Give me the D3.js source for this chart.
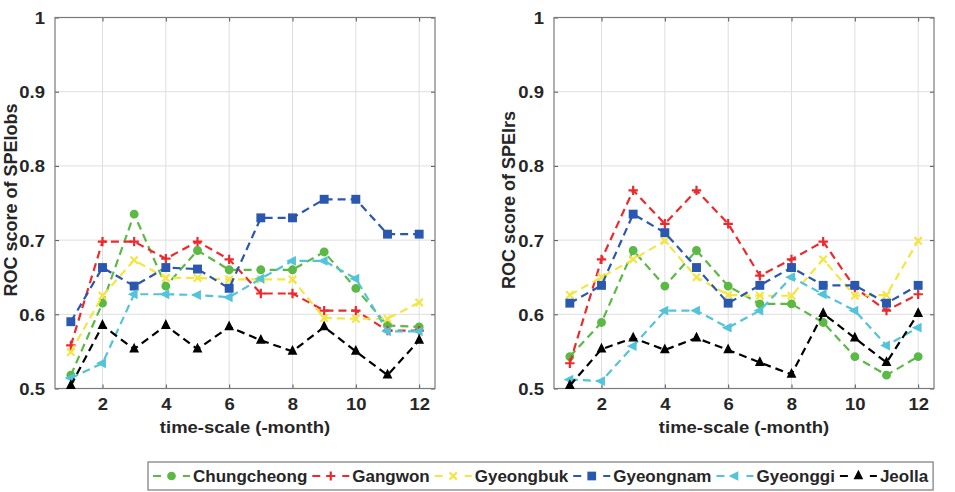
<!DOCTYPE html>
<html><head><meta charset="utf-8">
<script src="https://cdn.jsdelivr.net/npm/d3@7"></script>
<style>
body{margin:0;background:#fff;}
text{font-family:"Liberation Sans",Arial,Helvetica,sans-serif;font-weight:bold;fill:#262626;}
</style></head>
<body><svg id="c" width="955" height="492"></svg>
<script>
const months = [1,2,3,4,5,6,7,8,9,10,11,12];
const regions = ["Chungcheong","Gangwon","Gyeongbuk","Gyeongnam","Gyeonggi","Jeolla"];
const colors = ["#5cb946","#ec2a2e","#f4e642","#2a57b0","#52c4d9","#000000"];
const markers = ["circle","plus","cross","square","triLeft","triUp"];
const yTicks = [0.5,0.6,0.7,0.8,0.9,1];
const xTicks = [2,4,6,8,10,12];

// Left panel: ROC score of SPEIobs
const obsChungcheong = [0.518,0.615,0.735,0.638,0.686,0.660,0.660,0.660,0.684,0.635,0.585,0.583];
const obsGangwon     = [0.558,0.698,0.698,0.675,0.698,0.674,0.628,0.628,0.605,0.605,0.578,0.578];
const obsGyeongbuk   = [0.549,0.625,0.673,0.649,0.649,0.647,0.647,0.647,0.595,0.594,0.594,0.616];
const obsGyeongnam   = [0.590,0.663,0.638,0.663,0.661,0.635,0.730,0.730,0.755,0.755,0.708,0.708];
const obsGyeonggi    = [0.514,0.534,0.627,0.627,0.626,0.623,0.648,0.672,0.672,0.648,0.577,0.577];
const obsJeolla      = [0.504,0.585,0.553,0.585,0.553,0.583,0.565,0.550,0.583,0.550,0.518,0.565];

// Right panel: ROC score of SPEIrs
const rsChungcheong = [0.543,0.589,0.686,0.638,0.686,0.638,0.614,0.614,0.589,0.543,0.518,0.543];
const rsGangwon     = [0.534,0.674,0.767,0.722,0.767,0.722,0.652,0.674,0.698,0.636,0.605,0.627];
const rsGyeongbuk   = [0.626,0.650,0.674,0.699,0.650,0.626,0.625,0.625,0.674,0.625,0.626,0.699];
const rsGyeongnam   = [0.615,0.639,0.735,0.710,0.663,0.615,0.639,0.663,0.639,0.639,0.615,0.639];
const rsGyeonggi    = [0.512,0.510,0.557,0.605,0.605,0.582,0.605,0.650,0.627,0.605,0.558,0.582];
const rsJeolla      = [0.504,0.553,0.568,0.552,0.568,0.552,0.535,0.519,0.601,0.568,0.535,0.601];

const panels = [
  {left:55, label:"ROC score of SPEIobs", labelX:17,
   series:[obsChungcheong,obsGangwon,obsGyeongbuk,obsGyeongnam,obsGyeonggi,obsJeolla]},
  {left:554, label:"ROC score of SPEIrs", labelX:515,
   series:[rsChungcheong,rsGangwon,rsGyeongbuk,rsGyeongnam,rsGyeonggi,rsJeolla]}
];

const svg = d3.select("#c");
const W = 380, yTop = 17.5, yBot = 388.5;
const y = d3.scaleLinear().domain([0.5,1]).range([yBot, yTop]);
const SX = 1.12;

function marker(g, type, color, cx, cy, s){
  if(type==="circle") g.append("circle").attr("cx",cx).attr("cy",cy).attr("r",s).attr("fill",color).attr("stroke",color).attr("stroke-width",1.5);
  else if(type==="square") g.append("rect").attr("x",cx-s).attr("y",cy-s).attr("width",2*s).attr("height",2*s).attr("fill",color).attr("stroke",color).attr("stroke-width",1.5);
  else if(type==="plus") g.append("path").attr("d",`M${cx-s-1},${cy}H${cx+s+1}M${cx},${cy-s-1}V${cy+s+1}`).attr("stroke",color).attr("stroke-width",2.2).attr("fill","none");
  else if(type==="cross") g.append("path").attr("d",`M${cx-s},${cy-s}L${cx+s},${cy+s}M${cx-s},${cy+s}L${cx+s},${cy-s}`).attr("stroke",color).attr("stroke-width",2.2).attr("fill","none");
  else if(type==="triUp") g.append("path").attr("d",`M${cx},${cy-s-1}L${cx+s},${cy+s-1}L${cx-s},${cy+s-1}Z`).attr("fill",color).attr("stroke",color).attr("stroke-width",1.5);
  else if(type==="triLeft") g.append("path").attr("d",`M${cx-s-1},${cy}L${cx+s-1},${cy-s}L${cx+s-1},${cy+s}Z`).attr("fill",color).attr("stroke",color).attr("stroke-width",1.5);
}

panels.forEach(p=>{
  const x = d3.scaleLinear().domain([0.5,12.5]).range([p.left, p.left+W]);
  const g = svg.append("g");
  // grid
  g.append("g").selectAll("line").data(xTicks).join("line")
    .attr("x1",d=>x(d)).attr("x2",d=>x(d)).attr("y1",yTop).attr("y2",yBot)
    .attr("stroke","#dedede").attr("stroke-width",1);
  g.append("g").selectAll("line").data(yTicks.slice(1,-1)).join("line")
    .attr("x1",p.left).attr("x2",p.left+W).attr("y1",d=>y(d)).attr("y2",d=>y(d))
    .attr("stroke","#dedede").attr("stroke-width",1);
  // axes
  const ax = g.append("g").attr("transform",`translate(0,${yBot})`)
    .call(d3.axisBottom(x).tickValues(xTicks).tickSizeInner(-4).tickSizeOuter(0).tickPadding(10));
  const ay = g.append("g").attr("transform",`translate(${p.left},0)`)
    .call(d3.axisLeft(y).tickValues(yTicks).tickFormat(d3.format("~g")).tickSizeInner(-4).tickSizeOuter(0).tickPadding(9));
  const axT = g.append("g").attr("transform",`translate(0,${yTop})`)
    .call(d3.axisTop(x).tickValues(xTicks).tickSizeInner(-4).tickSizeOuter(0).tickFormat(""));
  const ayR = g.append("g").attr("transform",`translate(${p.left+W},0)`)
    .call(d3.axisRight(y).tickValues(yTicks).tickSizeInner(-4).tickSizeOuter(0).tickFormat(""));
  [ax,ay,axT,ayR].forEach(a=>{
    a.select(".domain").remove();
    a.selectAll("line").attr("stroke","#555").attr("stroke-width",1);
    a.selectAll("text").style("font-size","16.5px").attr("fill","#262626")
      .attr("transform",`scale(${SX},1)`);
  });
  ay.selectAll("text").attr("dy","0.36em");
  g.append("rect").attr("x",p.left).attr("y",yTop).attr("width",W).attr("height",yBot-yTop)
    .attr("fill","none").attr("stroke","#7a7a7a").attr("stroke-width",1.2);
  // series
  p.series.forEach((vals,i)=>{
    const pts = months.map((m,j)=>[x(m), y(vals[j])]);
    g.append("path").attr("d",d3.line()(pts)).attr("fill","none")
      .attr("stroke",colors[i]).attr("stroke-width",2.2).attr("stroke-dasharray","8,5");
    pts.forEach(pt=>marker(g, markers[i], colors[i], pt[0], pt[1], 3.7));
  });
  // axis titles
  g.append("text").attr("transform",`translate(${p.left+W/2},433) scale(${SX},1)`)
    .attr("text-anchor","middle").style("font-size","16.5px").text("time-scale (-month)");
  g.append("text").attr("transform",`translate(${p.labelX},200) rotate(-90)`)
    .attr("text-anchor","middle").style("font-size","18px").text(p.label);
});

// legend
const lg = svg.append("g");
const lx0 = 148, ly0 = 462, lh = 28;
const box = lg.append("rect").attr("x",lx0).attr("y",ly0).attr("height",lh)
  .attr("fill","#fff").attr("stroke","#7a7a7a").attr("stroke-width",1.2);
let cx = 153;
const cy = ly0 + lh/2;
regions.forEach((r,i)=>{
  lg.append("line").attr("x1",cx).attr("x2",cx+37).attr("y1",cy).attr("y2",cy)
    .attr("stroke",colors[i]).attr("stroke-width",2.2).attr("stroke-dasharray","8,22");
  marker(lg, markers[i], colors[i], cx+18.5, cy, 3.6);
  const t = lg.append("text").attr("x",cx+40).attr("y",cy+6).style("font-size","17px").text(r);
  cx = cx + 40 + t.node().getComputedTextLength() + 5;
});
box.attr("width", cx - lx0);
</script></body></html>
